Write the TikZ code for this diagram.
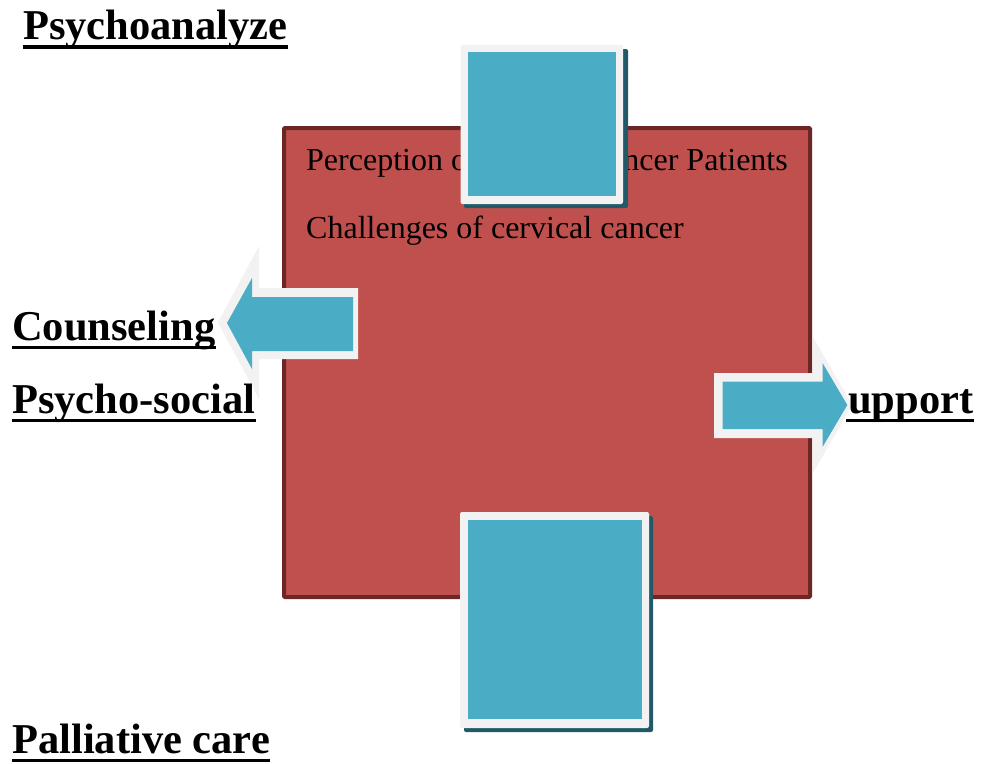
\documentclass[tikz,border=0pt]{standalone}
\usepackage{fontspec}
\setmainfont{Liberation Serif}
\definecolor{redfill}{HTML}{C0504D}
\definecolor{redline}{HTML}{6B2725}
\definecolor{bluefill}{HTML}{4BACC6}
\definecolor{blueshadow}{HTML}{215968}
\definecolor{rim}{HTML}{F2F2F2}
\begin{document}
\begin{tikzpicture}[x=1pt,y=-1pt,
  lbl/.style={inner sep=0pt, anchor=base west, font=\fontsize{42.5}{50}\selectfont\bfseries},
  body/.style={inner sep=0pt, anchor=base west, font=\fontsize{32}{38}\selectfont},
  uline/.style={line width=3.8pt},
  rimbox/.style={fill=rim, rounded corners=2pt},
  shadowbox/.style={fill=blueshadow, rounded corners=2pt},
  innerblue/.style={fill=bluefill}]
\useasboundingbox (0,0) rectangle (981,763);
\fill[white] (0,0) rectangle (981,763);

% central red panel
\draw[fill=redfill, draw=redline, line width=4pt, rounded corners=1pt] (284,128) rectangle (810,597);
\node[body] (t1) at (306,170) {Perception of cervical cancer Patients};
\node[body] (t2) at (306,238) {Challenges of cervical cancer};

% top box
\fill[shadowbox] (464,49) rectangle (628,208);
\fill[rimbox] (460.5,45) rectangle (623,204);
\fill[innerblue] (468,52) rectangle (616,196);

% bottom box
\fill[shadowbox] (464,516) rectangle (653,732);
\fill[rimbox] (460,512) rectangle (649,728);
\fill[innerblue] (468,520) rectangle (642,719);

% left arrow
\fill[rim] (218,322.5) -- (259,246) -- (259,288) -- (358,288) -- (358,359) -- (259,359) -- (259,399) -- cycle;
\fill[innerblue] (227,323) -- (252,278) -- (252,297) -- (353,297) -- (353,351) -- (252,351) -- (252,369) -- cycle;

% right arrow
\fill[rim] (852,405) -- (813,337) -- (813,373) -- (714,373) -- (714,438) -- (813,438) -- (813,473) -- cycle;
\fill[innerblue] (847.3,405) -- (822.7,363.3) -- (822.7,381.7) -- (722.7,381.7) -- (722.7,429) -- (822.7,429) -- (822.7,446.7) -- cycle;

% labels
\node[lbl] (psy) at (23,39) {Psychoanalyze};
\draw[uline] ([yshift=-8pt]psy.base west) -- ([yshift=-8pt]psy.base east);
\node[lbl] (cou) at (12,340) {Counseling};
\draw[uline] ([yshift=-7.5pt]cou.base west) -- ([yshift=-7.5pt]cou.base east);
\node[lbl] (pss) at (12,413) {Psycho-social};
\draw[uline] ([yshift=-7.5pt]pss.base west) -- ([yshift=-7.5pt]pss.base east);
\node[lbl] (sup) at (848,413) {upport};
\draw[uline] ([yshift=-7.5pt,xshift=-2pt]sup.base west) -- ([yshift=-7.5pt]sup.base east);
\node[lbl] (pal) at (12,753) {Palliative care};
\draw[uline] ([yshift=-7.5pt]pal.base west) -- ([yshift=-7.5pt]pal.base east);
\end{tikzpicture}
\end{document}
